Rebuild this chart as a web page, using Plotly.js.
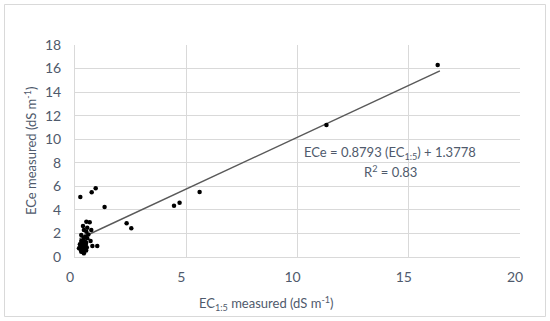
<!DOCTYPE html>
<html>
<head>
<meta charset="utf-8">
<script src="https://cdn.plot.ly/plotly-3.0.1.min.js"></script>
<style>html,body{margin:0;padding:0;background:#fff;}#chart{width:550px;height:321px;}</style>
</head>
<body>
<div id="chart"></div>
<script>
// Measured data points (EC1:5, ECe)
const ec15 = [16.3, 11.3, 5.6, 4.45, 4.7, 1.33, 0.24, 0.75, 0.93, 2.32, 2.53,
  0.51, 0.66, 0.36, 0.55, 0.40, 0.73, 0.51, 0.28, 0.40, 0.55, 0.70, 0.28, 0.37, 0.22,
  0.48, 0.78, 1.0, 0.33, 0.18, 0.44, 0.28, 0.40, 0.35, 0.45, 0.50, 0.42, 0.30, 0.50,
  0.38, 0.25, 0.46, 0.60, 0.32, 0.47, 0.26, 0.53, 0.36];
const ece = [16.3, 11.2, 5.52, 4.35, 4.6, 4.24, 5.1, 5.49, 5.83, 2.86, 2.44,
  3.0, 2.94, 2.63, 2.49, 2.29, 2.29, 2.15, 1.87, 1.64, 1.59, 1.36, 1.36, 1.16, 1.08,
  1.02, 0.93, 0.93, 0.79, 0.74, 0.65, 0.45, 0.31, 1.25, 1.3, 1.2, 0.9, 0.95, 0.55,
  1.45, 0.85, 1.75, 1.9, 1.05, 1.1, 0.6, 0.8, 0.4];
// Regression line
const slope = 0.8793;
const intercept = 1.3778;
const trendRange = [0.2, 16.4];
const xTicks = [0, 5, 10, 15, 20];
const yTicks = [0, 2, 4, 6, 8, 10, 12, 14, 16, 18];

const trendX = trendRange;
const trendY = trendRange.map(v => slope * v + intercept);

const fontFam = 'Lato, "Open Sans", sans-serif';
const txtCol = '#4f5a6c';
const L = 75, T = 45, W = 445, H = 212;
const px = v => (v - L) / W;
const py = v => (T + H - v) / H;

const data = [
  {x: trendX, y: trendY, mode: 'lines', type: 'scatter',
   line: {color: '#595959', width: 1.5}, hoverinfo: 'skip'},
  {x: ec15, y: ece, mode: 'markers', type: 'scatter',
   marker: {color: '#000', size: 4.5}}
];

const layout = {
  width: 550, height: 321,
  margin: {l: L, r: 550 - L - W, t: T, b: 321 - T - H},
  paper_bgcolor: '#fff', plot_bgcolor: '#fff',
  showlegend: false,
  font: {family: fontFam, size: 13, color: txtCol},
  xaxis: {range: [0, 20], tickvals: xTicks, showgrid: true, gridcolor: '#d9d9d9', gridwidth: 1,
    zeroline: false, showline: true, linecolor: '#d9d9d9', linewidth: 1,
    ticks: '', ticklabelstandoff: 7, ticklabelshift: -5,
    tickfont: {family: fontFam, size: 14, color: txtCol}},
  yaxis: {range: [0, 18], tickvals: yTicks, showgrid: true, gridcolor: '#d9d9d9', gridwidth: 1,
    zeroline: false, showline: true, linecolor: '#d9d9d9', linewidth: 1,
    ticks: '', ticklabelstandoff: 10,
    tickfont: {family: fontFam, size: 14, color: txtCol}},
  annotations: [
    {xref: 'paper', yref: 'paper', x: px(30), y: py(151), text: 'ECe measured (dS m<sup>-1</sup>)',
     textangle: -90, showarrow: false, xanchor: 'center', yanchor: 'middle',
     font: {family: fontFam, size: 13, color: txtCol}},
    {xref: 'paper', yref: 'paper', x: px(266), y: py(303), text: 'EC<sub>1:5</sub> measured (dS m<sup>-1</sup>)',
     showarrow: false, xanchor: 'center', yanchor: 'middle',
     font: {family: fontFam, size: 13, color: txtCol}},
    {xref: 'paper', yref: 'paper', x: px(390), y: py(153), text: 'ECe = 0.8793 (EC<sub>1:5</sub>) + 1.3778',
     showarrow: false, xanchor: 'center', yanchor: 'middle', bgcolor: 'rgba(255,255,255,0)',
     font: {family: fontFam, size: 13, color: txtCol}},
    {xref: 'paper', yref: 'paper', x: px(390), y: py(171), text: 'R<sup>2</sup> = 0.83',
     showarrow: false, xanchor: 'center', yanchor: 'middle',
     font: {family: fontFam, size: 13, color: txtCol}}
  ],
  shapes: [
    {type: 'rect', xref: 'paper', yref: 'paper', x0: px(4.5), x1: px(545.5), y0: py(316.5), y1: py(4.5),
     line: {color: '#d9d9d9', width: 1}, fillcolor: 'rgba(0,0,0,0)', layer: 'below'}
  ]
};

Plotly.newPlot('chart', data, layout, {displayModeBar: false, staticPlot: true});
</script>
</body>
</html>
